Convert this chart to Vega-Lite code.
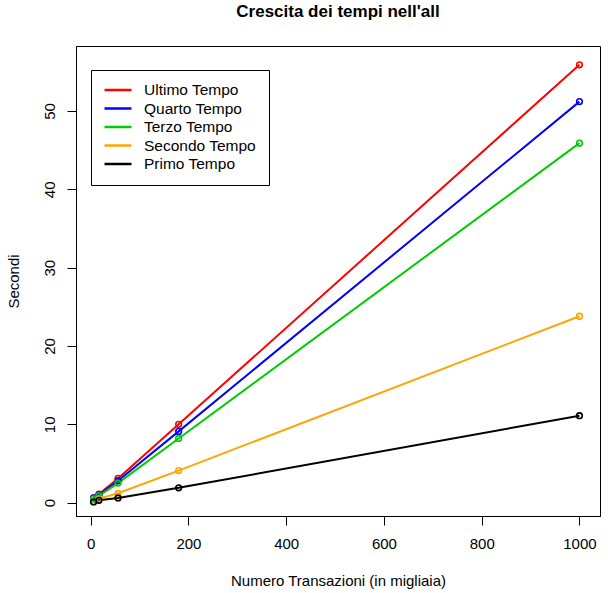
{
  "$schema": "https://vega.github.io/schema/vega-lite/v6.json",
  "autosize": {"type": "none"},
  "width": 524,
  "height": 470,
  "padding": {"left": 76, "top": 46, "right": 8, "bottom": 77},
  "background": "white",
  "title": {
    "text": "Crescita dei tempi nell'all",
    "font": "Liberation Sans",
    "fontSize": 17,
    "fontWeight": "bold",
    "color": "black",
    "anchor": "middle",
    "offset": 25
  },
  "config": {
    "font": "Liberation Sans",
    "view": {"stroke": "black", "strokeWidth": 1},
    "axis": {
      "grid": false,
      "domainColor": "black",
      "tickColor": "black",
      "tickSize": 9,
      "labelColor": "black",
      "labelFontSize": 15,
      "labelFont": "Liberation Sans",
      "titleFont": "Liberation Sans",
      "titleFontSize": 15,
      "titleFontWeight": "normal",
      "titleColor": "black"
    }
  },
  "data": {
    "values": [
      {"serie": "Ultimo Tempo", "x": 6, "y": 0.6},
      {"serie": "Ultimo Tempo", "x": 17, "y": 1.1},
      {"serie": "Ultimo Tempo", "x": 56, "y": 3.1},
      {"serie": "Ultimo Tempo", "x": 180, "y": 10.0},
      {"serie": "Ultimo Tempo", "x": 1000, "y": 55.9},
      {"serie": "Quarto Tempo", "x": 6, "y": 0.6},
      {"serie": "Quarto Tempo", "x": 17, "y": 1.0},
      {"serie": "Quarto Tempo", "x": 56, "y": 2.8},
      {"serie": "Quarto Tempo", "x": 180, "y": 9.1},
      {"serie": "Quarto Tempo", "x": 1000, "y": 51.2},
      {"serie": "Terzo Tempo", "x": 6, "y": 0.5},
      {"serie": "Terzo Tempo", "x": 17, "y": 0.9},
      {"serie": "Terzo Tempo", "x": 56, "y": 2.5},
      {"serie": "Terzo Tempo", "x": 180, "y": 8.2},
      {"serie": "Terzo Tempo", "x": 1000, "y": 45.9},
      {"serie": "Secondo Tempo", "x": 6, "y": 0.15},
      {"serie": "Secondo Tempo", "x": 17, "y": 0.5},
      {"serie": "Secondo Tempo", "x": 56, "y": 1.2},
      {"serie": "Secondo Tempo", "x": 180, "y": 4.1},
      {"serie": "Secondo Tempo", "x": 1000, "y": 23.8},
      {"serie": "Primo Tempo", "x": 6, "y": 0.1},
      {"serie": "Primo Tempo", "x": 17, "y": 0.3},
      {"serie": "Primo Tempo", "x": 56, "y": 0.6},
      {"serie": "Primo Tempo", "x": 180, "y": 1.9},
      {"serie": "Primo Tempo", "x": 1000, "y": 11.1}
    ]
  },
  "encoding": {
    "x": {
      "field": "x",
      "type": "quantitative",
      "scale": {"domain": [-30, 1042], "nice": false, "zero": false},
      "axis": {
        "title": "Numero Transazioni (in migliaia)",
        "values": [0, 200, 400, 600, 800, 1000],
        "format": "d",
        "labelPadding": 11,
        "titlePadding": 22
      }
    },
    "y": {
      "field": "y",
      "type": "quantitative",
      "scale": {"domain": [-1.7, 58.3], "nice": false, "zero": false},
      "axis": {
        "title": "Secondi",
        "values": [0, 10, 20, 30, 40, 50],
        "format": "d",
        "labelAngle": -90,
        "labelAlign": "center",
        "labelBaseline": "bottom",
        "labelPadding": 10,
        "titlePadding": 21
      }
    },
    "color": {
      "field": "serie",
      "type": "nominal",
      "sort": ["Ultimo Tempo", "Quarto Tempo", "Terzo Tempo", "Secondo Tempo", "Primo Tempo"],
      "scale": {
        "domain": ["Ultimo Tempo", "Quarto Tempo", "Terzo Tempo", "Secondo Tempo", "Primo Tempo"],
        "range": ["#ff0000", "#0000ff", "#00cd00", "#ffa500", "#000000"]
      },
      "legend": {
        "title": null,
        "orient": "none",
        "legendX": 15,
        "legendY": 24,
        "direction": "vertical",
        "symbolType": "M-2,0H2",
        "symbolSize": 182,
        "symbolStrokeWidth": 2.5,
        "symbolOffset": 7,
        "labelFontSize": 15.5,
        "labelFont": "Liberation Sans",
        "labelColor": "black",
        "labelOffset": 18,
        "rowPadding": 1.5,
        "padding": 12,
        "strokeColor": "black",
        "fillColor": "white"
      }
    }
  },
  "layer": [
    {"mark": {"type": "line", "strokeWidth": 2}},
    {"mark": {"type": "point", "filled": false, "size": 32, "strokeWidth": 1.6, "opacity": 1}}
  ]
}
